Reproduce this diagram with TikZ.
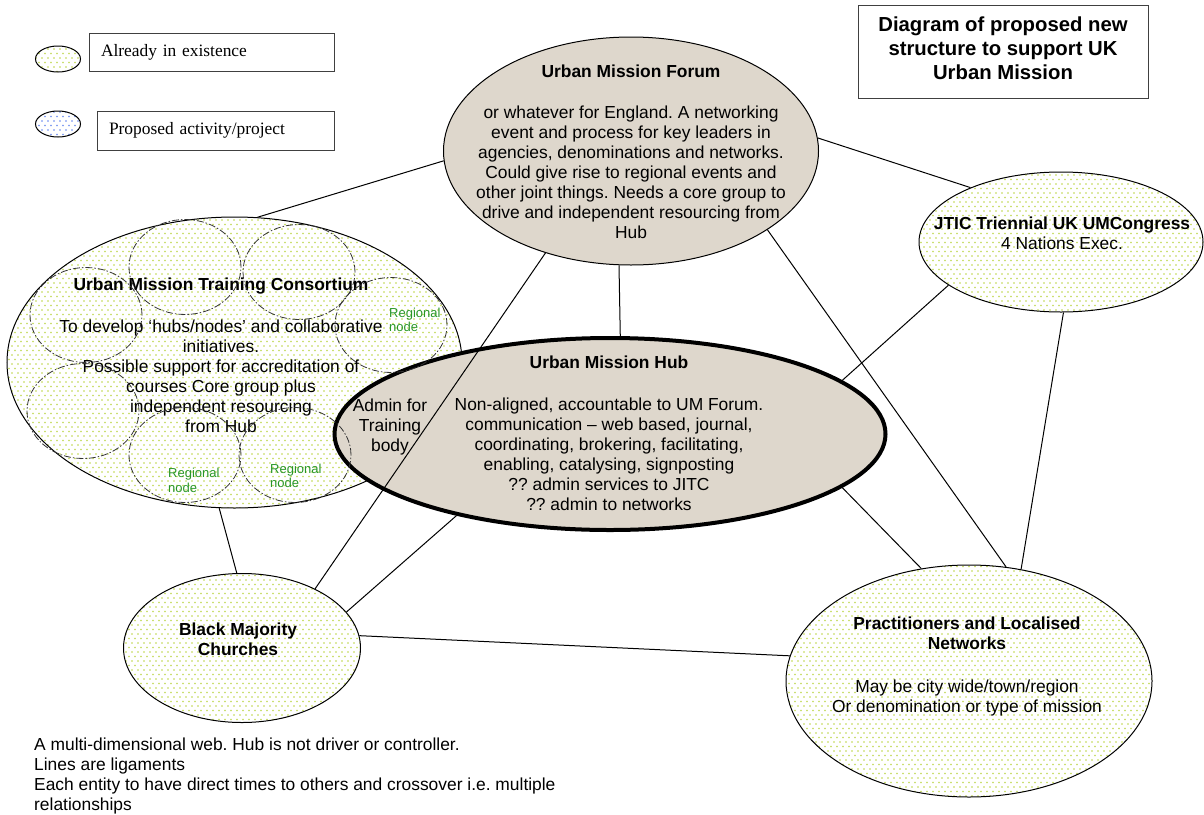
\documentclass[tikz,border=0pt]{standalone}
\usepackage{fontspec}
\setmainfont{Liberation Sans}
\newfontfamily\legendfont{Liberation Serif}
\usetikzlibrary{shapes.geometric,patterns}
\frenchspacing
\definecolor{stone}{RGB}{222,215,204}
\definecolor{dotgreen}{RGB}{176,206,40}
\definecolor{dotblue}{RGB}{70,110,235}
\definecolor{nodegreen}{RGB}{40,150,40}
\pgfdeclarepatternformonly{umdots}{\pgfqpoint{-1pt}{-1pt}}{\pgfqpoint{5pt}{8pt}}{\pgfqpoint{6pt}{9pt}}{%
  \pgfpathrectangle{\pgfqpoint{-0.7pt}{-0.7pt}}{\pgfqpoint{1.4pt}{1.4pt}}%
  \pgfpathrectangle{\pgfqpoint{2.3pt}{3.8pt}}{\pgfqpoint{1.4pt}{1.4pt}}%
  \pgfusepath{fill}}
\tikzset{
  body/.style={font=\fontsize{17.4}{20}\selectfont, align=center, inner sep=0pt},
  old/.style={ellipse, draw, line width=1pt, pattern=umdots, pattern color=dotgreen, inner sep=0pt},
  plan/.style={ellipse, draw, line width=1pt, fill=stone, inner sep=0pt},
  legbox/.style={draw=black!75, line width=1pt, font=\legendfont\fontsize{17.4}{20}\selectfont, align=left, inner xsep=12pt, inner ysep=0pt},
  regional/.style={ellipse, draw=black!80, line width=0.8pt, dash pattern=on 7pt off 2pt on 1.5pt off 2pt, minimum width=112pt, minimum height=95pt, inner sep=0pt},
  reg/.style={font=\fontsize{13}{14.5}\selectfont, text=nodegreen, align=left, anchor=west, inner sep=0pt}
}
\begin{document}
\begin{tikzpicture}[x=1pt,y=-1pt]
\useasboundingbox (0,0) rectangle (1204,814);
% legend
\node[old, minimum width=45pt, minimum height=26pt] (L1) at (58,59) {};
\node[legbox, minimum width=245pt, minimum height=38pt, text width=221pt] (L1t) at (211.5,52) {Already in existence};
\node[old, pattern color=dotblue, minimum width=45pt, minimum height=26pt] (L2) at (58,124) {};
\node[legbox, minimum width=237pt, minimum height=39pt, text width=213pt] (L2t) at (215.5,130.5) {Proposed activity/project};
\node[draw=black!75, line width=1pt, minimum width=290pt, inner xsep=0pt, inner ysep=11.5pt, text depth=7.5pt, anchor=north, align=center, font=\bfseries\fontsize{20.3}{24}\selectfont] (title) at (1003,5) {Diagram of proposed new\\structure to support UK\\Urban Mission};
% training consortium
\node[old, minimum width=455pt, minimum height=291pt] (T) at (234.5,362.5) {};
\node[body] (T1) at (221,355) {\textbf{Urban Mission Training Consortium}\\[22pt]To develop ‘hubs/nodes’ and collaborative\\initiatives.\\Possible support for accreditation of\\courses Core group plus\\independent resourcing\\from Hub};
% hub
\node[plan, line width=4pt, minimum width=551pt, minimum height=192pt] (H) at (610,434) {};
\node[body] (H1) at (609,433) {\textbf{Urban Mission Hub}\\[22pt]Non-aligned, accountable to UM Forum.\\communication – web based, journal,\\coordinating, brokering, facilitating,\\enabling, catalysing, signposting\\?? admin services to JITC\\?? admin to networks};
\node[body] (A1) at (390,427) {Admin for\\Training\\body};
% regional nodes
\node[regional] (C1) at (185,267) {};
\node[regional] (C2) at (299,272) {};
\node[regional] (C3) at (86,315) {};
\node[regional] (C4) at (391,325) {};
\node[regional] (C5) at (83,411) {};
\node[regional] (C6) at (185,455) {};
\node[regional] (C7) at (295,455) {};
\node[reg] (R1) at (389,320) {Regional\\node};
\node[reg] (R2) at (168,480.5) {Regional\\node};
\node[reg] (R3) at (270,476) {Regional\\node};
% forum
\node[plan, minimum width=375pt, minimum height=228pt] (F) at (631,151) {};
\node[body] (F1) at (631,152) {\textbf{Urban Mission Forum}\\[21pt]or whatever for England. A networking\\event and process for key leaders in\\agencies, denominations and networks.\\Could give rise to regional events and\\other joint things. Needs a core group to\\drive and independent resourcing from\\Hub};
% congress
\node[old, minimum width=284pt, minimum height=140pt] (J) at (1061,242) {};
\node[body] (J1) at (1062,233) {\textbf{JTIC Triennial UK UMCongress}\\4 Nations Exec.};
% practitioners
\node[old, minimum width=366pt, minimum height=232pt] (P) at (969,681) {};
\node[body] (P1) at (967,666) {\textbf{Practitioners and Localised}\\\textbf{Networks}\\[23pt]May be city wide/town/region\\Or denomination or type of mission};
% black majority churches
\node[old, minimum width=237pt, minimum height=149pt] (B) at (242,648) {};
\node[body] (B1) at (238,639) {\textbf{Black Majority}\\\textbf{Churches}};
% notes
\node[body, align=left, anchor=west] (N1) at (34,776) {A multi-dimensional web. Hub is not driver or controller.\\Lines are ligaments\\Each entity to have direct times to others and crossover i.e. multiple\\relationships};
\path[line width=1pt]
  (F.183) edge (T.81)
  (F.4) edge (J.149)
  (F.264.5) edge (H.84)
  (F.230) edge (B.39)
  (F.330) edge (P.72)
  (J.201) edge (H.13)
  (J.272.5) edge (P.65)
  (H.347) edge (P.113)
  (H.208.5) edge (B.19)
  (T.264.5) edge (B.94)
  (B.6) edge (P.172)
;
\end{tikzpicture}
\end{document}
